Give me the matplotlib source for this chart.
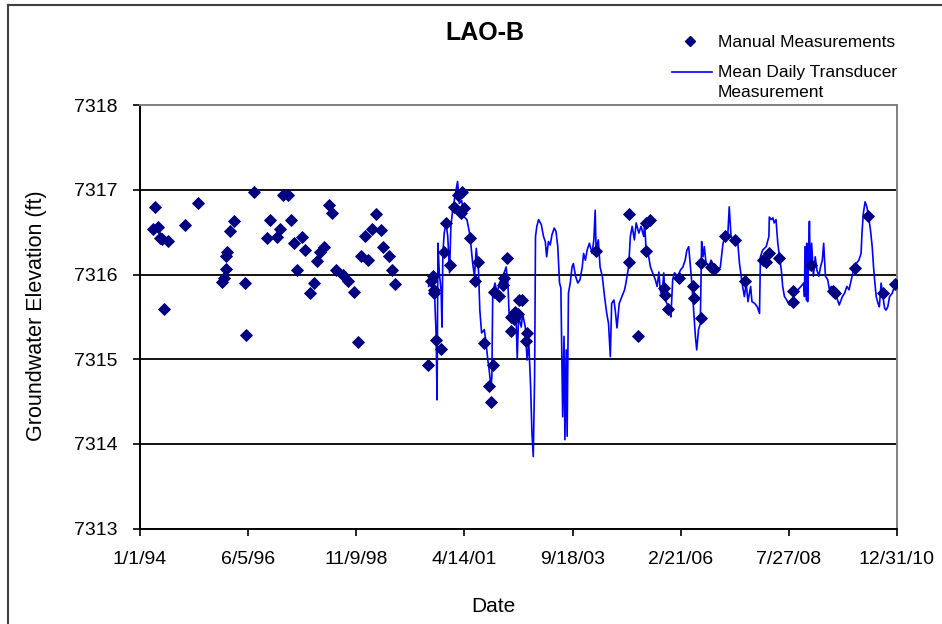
import numpy as np
import matplotlib
matplotlib.use('Agg')
import matplotlib.pyplot as plt
import matplotlib.dates as mdates
from matplotlib.lines import Line2D
from datetime import datetime

plt.rcParams['font.family'] = ['Liberation Sans', 'DejaVu Sans']

# manual measurements: decimal year, elevation (ft)
manual_yr = [1994.29, 1994.34, 1994.41, 1994.45, 1994.50, 1994.54, 1994.62, 1995.00, 1995.30,
             1995.85, 1995.88, 1995.92, 1995.93, 1995.95, 1996.01, 1996.10, 1996.35, 1996.39,
             1996.56, 1996.85, 1996.92, 1997.07, 1997.14, 1997.22, 1997.33, 1997.39, 1997.46,
             1997.53, 1997.64, 1997.71, 1997.81, 1997.91, 1997.98, 1998.05, 1998.14, 1998.24,
             1998.31, 1998.40, 1998.55, 1998.66, 1998.80, 1998.90, 1998.96, 1999.05, 1999.11,
             1999.21, 1999.30, 1999.40, 1999.46, 1999.59, 1999.66, 1999.72,
             2000.46, 2000.54, 2000.57, 2000.59, 2000.61, 2000.65, 2000.76, 2000.82, 2000.86,
             2000.95, 2001.06, 2001.13, 2001.21, 2001.23, 2001.27, 2001.42, 2001.52, 2001.60,
             2001.72, 2001.84, 2001.87, 2001.92, 2001.94, 2002.05, 2002.15, 2002.18, 2002.24,
             2002.32, 2002.33, 2002.39, 2002.42, 2002.48, 2002.52, 2002.58, 2002.67, 2002.69,
             2004.24, 2004.97, 2004.97, 2005.18, 2005.35, 2005.36, 2005.44, 2005.77, 2005.79,
             2005.86, 2006.11, 2006.41, 2006.43, 2006.60, 2006.60, 2006.82, 2006.88, 2007.14,
             2007.35, 2007.59, 2007.99, 2008.06, 2008.12, 2008.35, 2008.67, 2008.66, 2009.07,
             2009.56, 2009.61, 2010.05, 2010.34, 2010.68, 2010.96]
manual_elev = [7316.54, 7316.80, 7316.56, 7316.43, 7316.42, 7315.59, 7316.40, 7316.59, 7316.85,
               7315.91, 7315.96, 7316.07, 7316.22, 7316.27, 7316.52, 7316.63, 7315.90, 7315.29,
               7316.97, 7316.43, 7316.64, 7316.44, 7316.54, 7316.94, 7316.94, 7316.64, 7316.37,
               7316.05, 7316.44, 7316.29, 7315.78, 7315.90, 7316.16, 7316.27, 7316.33, 7316.82,
               7316.73, 7316.05, 7316.00, 7315.92, 7315.79, 7315.20, 7316.22, 7316.46, 7316.17,
               7316.54, 7316.72, 7316.53, 7316.33, 7316.22, 7316.05, 7315.89,
               7314.93, 7315.92, 7315.98, 7315.78, 7315.82, 7315.23, 7315.12, 7316.27, 7316.61,
               7316.11, 7316.80, 7316.94, 7316.73, 7316.97, 7316.79, 7316.43, 7315.92, 7316.15,
               7315.19, 7314.68, 7314.50, 7314.93, 7315.79, 7315.75, 7315.88, 7315.96, 7316.19,
               7315.33, 7315.50, 7315.48, 7315.56, 7315.54, 7315.70, 7315.70, 7315.21, 7315.31,
               7316.28, 7316.71, 7316.15, 7315.28, 7316.61, 7316.28, 7316.64, 7315.84, 7315.76,
               7315.59, 7315.96, 7315.86, 7315.72, 7316.14, 7315.49, 7316.09, 7316.07, 7316.45,
               7316.41, 7315.92, 7316.17, 7316.15, 7316.25, 7316.20, 7315.81, 7315.68, 7316.11,
               7315.81, 7315.78, 7316.08, 7316.69, 7315.78, 7315.89]

# mean daily transducer record (traced): decimal year, elevation (ft)
trans_yr = [2000.48, 2000.52, 2000.57, 2000.61, 2000.65, 2000.67, 2000.69, 2000.72, 2000.76, 2000.78,
            2000.80, 2000.83, 2000.87, 2000.91, 2000.95, 2000.98, 2001.02, 2001.07, 2001.13, 2001.17,
            2001.22, 2001.28, 2001.34, 2001.40, 2001.43, 2001.47, 2001.51, 2001.55, 2001.60, 2001.63,
            2001.67, 2001.73, 2001.77, 2001.81, 2001.84, 2001.88, 2001.90, 2001.92, 2001.97, 2002.02,
            2002.07, 2002.15, 2002.22, 2002.26, 2002.29, 2002.33, 2002.39, 2002.44, 2002.47, 2002.50,
            2002.56, 2002.59, 2002.65, 2002.69, 2002.73, 2002.77, 2002.80, 2002.83, 2002.86, 2002.88,
            2002.91, 2002.95, 2003.01, 2003.06, 2003.10, 2003.13, 2003.17, 2003.21, 2003.25, 2003.30,
            2003.34, 2003.38, 2003.42, 2003.45, 2003.47, 2003.49, 2003.52, 2003.54, 2003.57, 2003.59,
            2003.62, 2003.66, 2003.70, 2003.73, 2003.78, 2003.83, 2003.88, 2003.93, 2003.96, 2004.00,
            2004.04, 2004.09, 2004.15, 2004.19, 2004.22, 2004.24, 2004.29, 2004.33, 2004.38, 2004.43,
            2004.48, 2004.52, 2004.56, 2004.59, 2004.64, 2004.67, 2004.71, 2004.76, 2004.82, 2004.88,
            2004.91, 2004.97, 2005.01, 2005.05, 2005.10, 2005.14, 2005.20, 2005.25, 2005.31, 2005.33,
            2005.36, 2005.41, 2005.46, 2005.51, 2005.57, 2005.61, 2005.65, 2005.68, 2005.72, 2005.76,
            2005.79, 2005.83, 2005.89, 2005.92, 2005.96, 2006.00, 2006.08, 2006.13, 2006.19, 2006.24,
            2006.28, 2006.32, 2006.36, 2006.39, 2006.43, 2006.47, 2006.50, 2006.54, 2006.58, 2006.61,
            2006.64, 2006.67, 2006.71, 2006.79, 2006.82, 2006.90, 2006.97, 2007.03, 2007.09, 2007.14,
            2007.20, 2007.23, 2007.27, 2007.33, 2007.41, 2007.46, 2007.50, 2007.53, 2007.57, 2007.61,
            2007.65, 2007.71, 2007.74, 2007.80, 2007.86, 2007.91, 2007.93, 2007.98, 2008.06, 2008.12,
            2008.13, 2008.17, 2008.21, 2008.24, 2008.28, 2008.32, 2008.36, 2008.40, 2008.43, 2008.47,
            2008.52, 2008.58, 2008.64, 2008.69, 2008.77, 2008.84, 2008.90, 2008.92, 2008.93, 2008.96,
            2008.97, 2008.99, 2009.01, 2009.03, 2009.05, 2009.08, 2009.12, 2009.16, 2009.20, 2009.24,
            2009.28, 2009.32, 2009.35, 2009.39, 2009.44, 2009.48, 2009.52, 2009.56, 2009.59, 2009.65,
            2009.70, 2009.77, 2009.82, 2009.87, 2009.92, 2009.97, 2010.02, 2010.08, 2010.14, 2010.19,
            2010.21, 2010.24, 2010.28, 2010.32, 2010.36, 2010.40, 2010.44, 2010.47, 2010.50, 2010.53,
            2010.57, 2010.60, 2010.64, 2010.68, 2010.72, 2010.75, 2010.79, 2010.83, 2010.89, 2010.94,
            2010.99]
trans_elev = [7315.86, 7315.98, 7315.94, 7315.82, 7315.27, 7314.52, 7316.37, 7316.02, 7315.82, 7315.38,
              7316.25, 7316.49, 7316.61, 7316.45, 7316.02, 7316.57, 7316.76, 7316.92, 7317.10, 7316.84,
              7316.88, 7316.68, 7316.65, 7316.49, 7316.35, 7316.13, 7315.98, 7316.31, 7316.05, 7315.58,
              7315.31, 7315.35, 7315.19, 7314.99, 7314.87, 7314.68, 7314.79, 7315.78, 7315.90, 7315.78,
              7315.90, 7315.98, 7316.09, 7315.90, 7315.50, 7315.54, 7315.42, 7315.54, 7315.01, 7315.50,
              7315.38, 7315.54, 7315.38, 7314.99, 7315.19, 7314.68, 7314.13, 7313.85, 7314.79, 7316.45,
              7316.57, 7316.65, 7316.59, 7316.45, 7316.39, 7316.21, 7316.39, 7316.35, 7316.47, 7316.55,
              7316.51, 7316.33, 7315.90, 7315.84, 7315.03, 7314.32, 7315.27, 7314.05, 7315.11, 7314.09,
              7315.78, 7315.90, 7316.09, 7316.13, 7315.98, 7315.90, 7315.94, 7316.09, 7316.25, 7316.17,
              7316.29, 7316.37, 7316.25, 7316.41, 7316.76, 7316.29, 7316.41, 7316.09, 7315.98, 7315.74,
              7315.54, 7315.42, 7315.03, 7315.66, 7315.70, 7315.58, 7315.37, 7315.66, 7315.74, 7315.82,
              7315.90, 7316.09, 7316.45, 7316.57, 7316.41, 7316.61, 7316.49, 7316.57, 7316.45, 7316.61,
              7316.33, 7316.25, 7316.09, 7316.02, 7315.94, 7315.86, 7316.03, 7315.82, 7315.74, 7316.02,
              7315.70, 7315.66, 7315.54, 7315.50, 7315.94, 7316.02, 7315.98, 7316.05, 7316.09, 7316.17,
              7316.29, 7316.33, 7316.09, 7315.90, 7315.58, 7315.27, 7315.11, 7315.35, 7315.42, 7316.39,
              7316.21, 7316.33, 7316.13, 7316.11, 7316.17, 7316.09, 7316.03, 7316.09, 7316.37, 7316.45,
              7316.49, 7316.80, 7316.45, 7316.41, 7316.45, 7316.13, 7315.98, 7315.86, 7315.74, 7315.90,
              7315.68, 7315.86, 7315.68, 7315.66, 7315.62, 7315.54, 7316.21, 7316.29, 7316.33, 7316.45,
              7316.68, 7316.65, 7316.67, 7316.61, 7316.65, 7316.37, 7316.21, 7316.05, 7315.86, 7315.74,
              7315.70, 7315.64, 7315.68, 7315.76, 7315.82, 7315.86, 7315.90, 7315.74, 7316.33, 7315.70,
              7316.37, 7315.68, 7316.21, 7316.63, 7316.05, 7316.37, 7315.98, 7316.21, 7316.05, 7315.98,
              7316.09, 7316.17, 7316.37, 7315.98, 7315.94, 7315.82, 7315.86, 7315.78, 7315.76, 7315.72,
              7315.64, 7315.74, 7315.78, 7315.86, 7315.82, 7315.94, 7316.05, 7316.13, 7316.17, 7316.25,
              7316.49, 7316.72, 7316.86, 7316.80, 7316.68, 7316.53, 7316.33, 7316.09, 7315.90, 7315.74,
              7315.66, 7315.62, 7315.90, 7315.74, 7315.60, 7315.58, 7315.62, 7315.74, 7315.78, 7315.86,
              7315.90]

x_tick_labels = ['1/1/94', '6/5/96', '11/9/98', '4/14/01', '9/18/03', '2/21/06', '7/27/08', '12/31/10']
y_ticks = [7313, 7314, 7315, 7316, 7317, 7318]


def yr2num(yrs):
    base = mdates.date2num(datetime(1994, 1, 1))
    return base + (np.asarray(yrs) - 1994.0) * 365.25


x_ticks = [mdates.date2num(datetime.strptime(s, '%m/%d/%y')) for s in x_tick_labels]

fig = plt.figure(figsize=(9.42, 6.24), dpi=100)
ax = fig.add_axes([140 / 942, 1 - 528.5 / 624, 757 / 942, 423.2 / 624])

for yv in y_ticks[1:-1]:
    ax.axhline(yv, color='black', lw=1.3, zorder=1)

ax.plot(yr2num(trans_yr), trans_elev, color='#0000FF', lw=1.2, zorder=2)
ax.plot(yr2num(manual_yr), manual_elev, 'D', color='#000080', ms=6, mec='#000080', mew=0.6,
        linestyle='none', zorder=3)

ax.set_xlim(x_ticks[0], x_ticks[-1])
ax.set_ylim(y_ticks[0], y_ticks[-1])
ax.set_xticks(x_ticks)
ax.set_xticklabels(x_tick_labels)
ax.set_yticks(y_ticks)
ax.tick_params(direction='out', length=5, width=1.2, labelsize=14, color='black')
ax.tick_params(axis='x', pad=11)
ax.tick_params(axis='y', pad=11)

for s in ['left', 'bottom']:
    ax.spines[s].set_color('black')
    ax.spines[s].set_linewidth(1.4)
for s in ['top', 'right']:
    ax.spines[s].set_color('#808080')
    ax.spines[s].set_linewidth(1.4)

fig.text(485 / 942, 1 - 33 / 624, 'LAO-B', ha='center', va='center', fontsize=18, fontweight='bold')
fig.text(37 / 942, 1 - 316 / 624, 'Groundwater Elevation (ft)', rotation=90, ha='center', va='center',
         fontsize=15.5)
fig.text(493 / 942, 1 - 607 / 624, 'Date', ha='center', va='center', fontsize=15)

# legend
fig.add_artist(Line2D([690 / 942], [1 - 41 / 624], marker='D', color='#000080', ms=5, linestyle='none'))
fig.text(718 / 942, 1 - 47 / 624, 'Manual Measurements', ha='left', va='baseline', fontsize=12.5)
fig.add_artist(Line2D([672 / 942, 712 / 942], [1 - 72 / 624, 1 - 72 / 624], color='#0000FF', lw=1.2))
fig.text(718 / 942, 1 - 65 / 624, 'Mean Daily Transducer\nMeasurement', ha='left', va='top',
         fontsize=12.5, linespacing=1.45)

# outer chart frame
fig.add_artist(Line2D([8 / 942, 8 / 942], [0, 1 - 5 / 624], color='#404040', lw=1.5))
fig.add_artist(Line2D([8 / 942, 1], [1 - 5 / 624, 1 - 5 / 624], color='#404040', lw=1.5))

fig.savefig('out.png', dpi=100)
